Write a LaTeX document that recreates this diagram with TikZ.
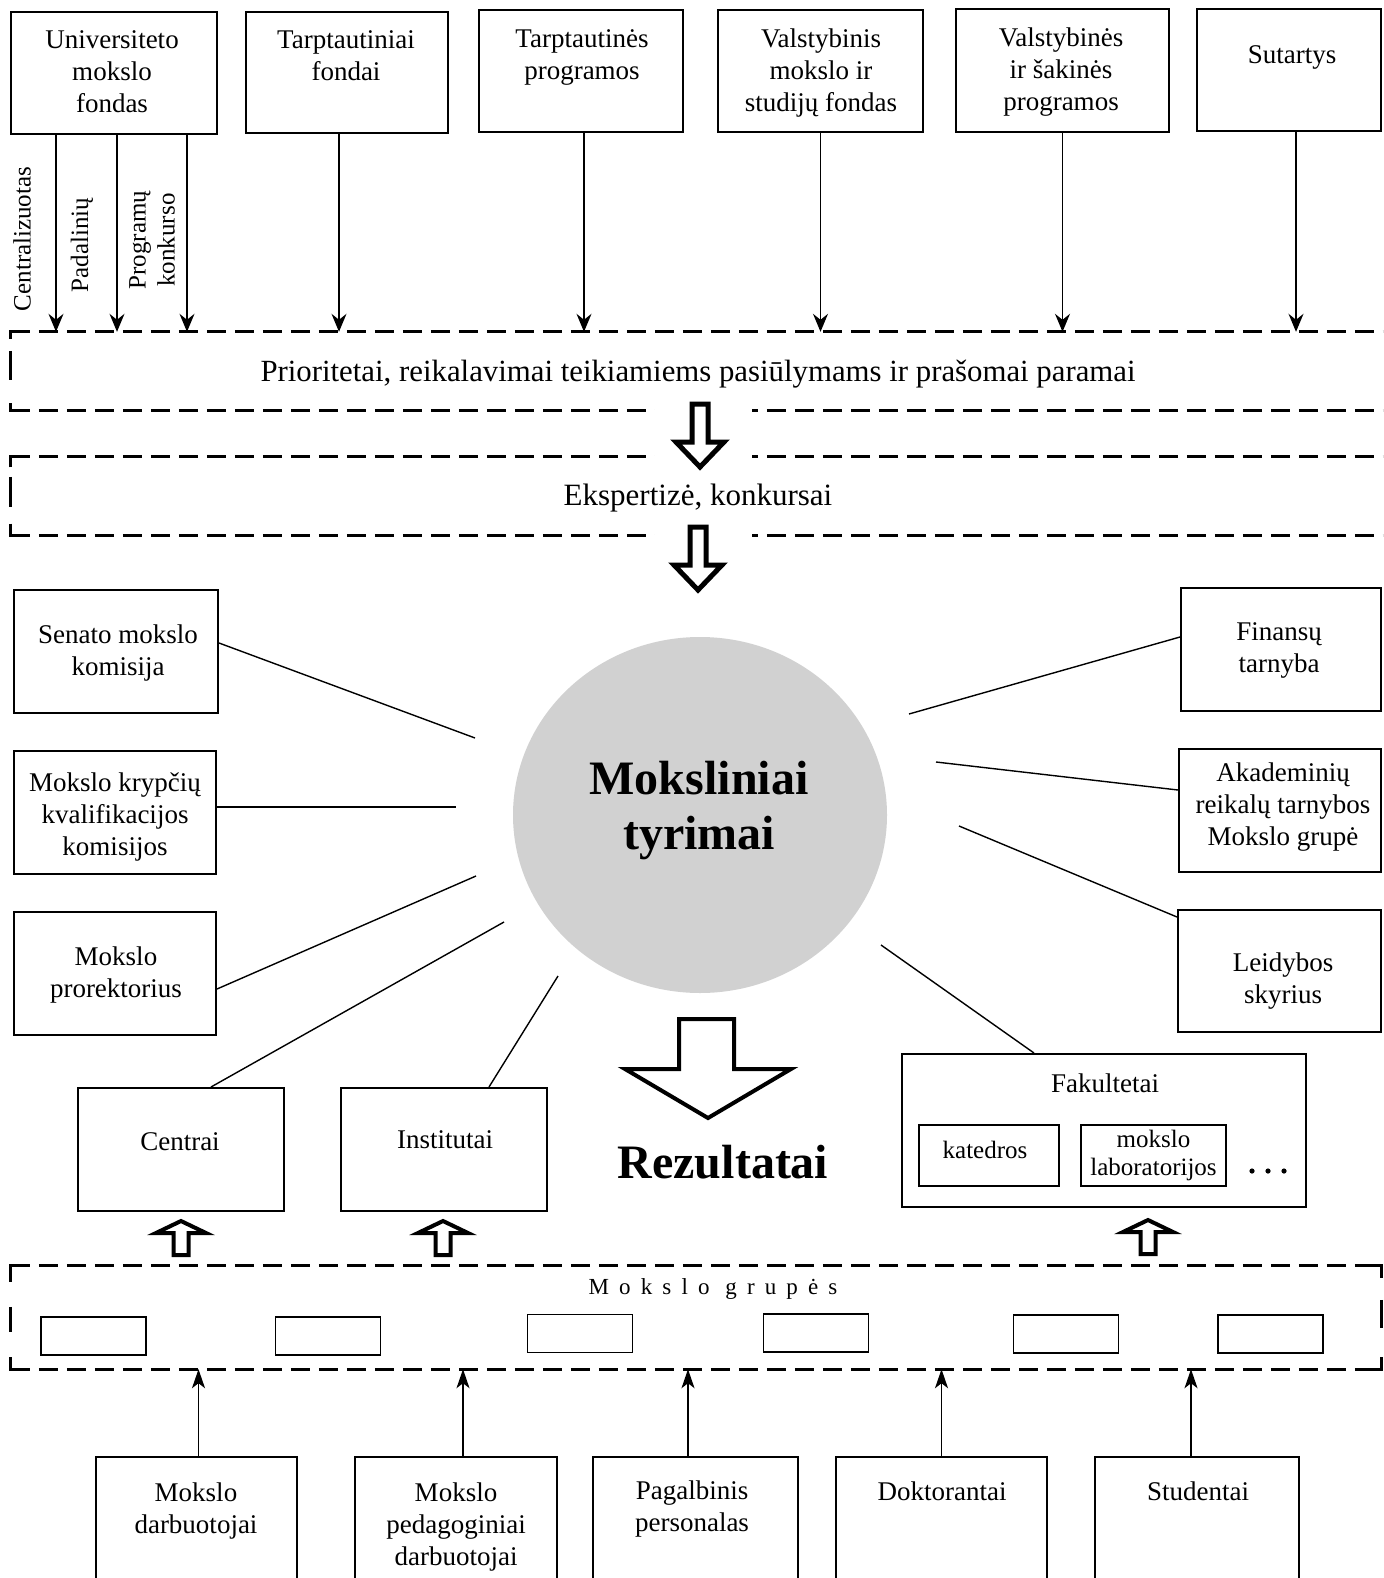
\documentclass[tikz,border=0pt]{standalone}
\usepackage{fontspec}
\setmainfont{Liberation Serif}
\usetikzlibrary{arrows.meta,shapes.geometric,calc}
\begin{document}
\begin{tikzpicture}[x=1pt,y=-1pt,
  box/.style={draw, line width=2pt, inner sep=0pt},
  txt/.style={align=center, inner sep=0pt, font=\fontsize{27}{32}\selectfont},
  rtxt/.style={align=center, inner sep=0pt, rotate=90, font=\fontsize{25}{29}\selectfont},
  arr/.style={line width=1.3pt, -{Stealth[length=18pt,width=15pt,inset=6pt]}},
  uarr/.style={line width=1.4pt, -{Stealth[length=19pt,width=13pt,inset=5pt]}},
  link/.style={line width=1.4pt},
  dashln/.style={line width=3pt, dash pattern=on 19pt off 9pt},
  frm/.style={line width=3pt, line join=miter},
  hollow/.style={draw, fill=white, line width=5pt, line join=miter, miter limit=10},
  smallbox/.style={draw, line width=1.5pt, inner sep=0pt},
  upar/.pic={\draw[line width=4pt, fill=white, line join=miter, miter limit=10]
     (-7.5,0) -- (-7.5,-22) -- (-25,-22) -- (0,-34) -- (25,-22) -- (7.5,-22) -- (7.5,0) -- cycle;}
]
\path[use as bounding box] (0,0) rectangle (1383,1578);
\clip (0,0) rectangle (1383,1578);
\fill[white] (0,0) rectangle (1383,1578);

% ---------- top boxes
\node[box, minimum width=206pt, minimum height=122pt] (u) at (114,73) {};
\node[txt] (ut) at (112,72) {Universiteto\\mokslo\\fondas};
\node[box, minimum width=202pt, minimum height=121pt] (tf) at (347,72.5) {};
\node[txt] (tft) at (346,56) {Tarptautiniai\\fondai};
\node[box, minimum width=204pt, minimum height=122pt] (tp) at (581,71) {};
\node[txt] (tpt) at (582,57) {Tarptautinės\\programos};
\node[box, minimum width=205pt, minimum height=122pt] (vf) at (820.5,71) {};
\node[txt] (vft) at (821,73) {Valstybinis\\mokslo ir\\studijų fondas};
\node[box, minimum width=213pt, minimum height=123pt] (vp) at (1062.5,70.5) {};
\node[txt] (vpt) at (1061,72) {Valstybinės\\ir šakinės\\programos};
\node[box, minimum width=184pt, minimum height=122pt] (s) at (1289,70) {};
\node[txt] (st) at (1292,57) {Sutartys};

% rotated labels
\node[rtxt] (l1) at (22,239) {Centralizuotas};
\node[rtxt] (l2) at (82,245) {Padalinių};
\node[rtxt] (l3) at (152,240) {Programų\\konkurso};

% ---------- dashed frames
\node[inner sep=0pt, minimum width=1374pt, minimum height=78pt] (p1) at (698,371) {};
\node[inner sep=0pt, font=\fontsize{30.8}{36}\selectfont] (p1t) at (698,374) {Prioritetai, reikalavimai teikiamiems pasiūlymams ir prašomai paramai};
\node[inner sep=0pt, minimum width=1374pt, minimum height=79pt] (p2) at (698,496) {};
\node[inner sep=0pt, font=\fontsize{31}{36}\selectfont] (p2t) at (698,498) {Ekspertizė, konkursai};

\draw[dashln] (p1.north west) -- (p1.north east);
\draw[dashln] (p1.south west) -- (p1.south east);
\draw[frm] ($(p1.north west)+(0,7)$) -- (p1.north west) -- ($(p1.north west)+(19,0)$);
\draw[frm] ($(p1.north west)+(0,19)$) -- ($(p1.north west)+(0,48)$);
\draw[frm] ($(p1.south west)+(0,-7)$) -- (p1.south west) -- ($(p1.south west)+(19,0)$);

\draw[dashln] (p2.north west) -- (p2.north east);
\draw[dashln] (p2.south west) -- (p2.south east);
\draw[frm] ($(p2.north west)+(0,11)$) -- (p2.north west) -- ($(p2.north west)+(19,0)$);
\draw[frm] ($(p2.north west)+(0,20.5)$) -- ($(p2.north west)+(0,50.5)$);
\draw[frm] ($(p2.south west)+(0,-12)$) -- (p2.south west) -- ($(p2.south west)+(19,0)$);

% top arrows
\draw[arr] ($(u.south)+(-58,0)$) -- ($(u.south |- p1.north)+(-58,0)$);
\draw[arr] ($(u.south)+(3,0)$) -- ($(u.south |- p1.north)+(3,0)$);
\draw[arr] ($(u.south)+(73,0)$) -- ($(u.south |- p1.north)+(73,0)$);
\draw[arr] ($(tf.south)+(-8,0)$) -- ($(tf.south |- p1.north)+(-8,0)$);
\draw[arr] ($(tp.south)+(3,0)$) -- ($(tp.south |- p1.north)+(3,0)$);
\draw[arr] (vf.south) -- (vf.south |- p1.north);
\draw[arr] (vp.south) -- (vp.south |- p1.north);
\draw[arr] ($(s.south)+(7,0)$) -- ($(s.south |- p1.north)+(7,0)$);

% hollow arrows between frames
\fill[white] (655,395) rectangle (752,478);
\fill[white] (655,520) rectangle (752,548);
\draw[hollow] (692,404) -- (708,404) -- (708,442) -- (724,442) -- (700,467) -- (676,442) -- (692,442) -- cycle;
\draw[hollow] (690,527) -- (706,527) -- (706,565) -- (722,565) -- (698,590) -- (674,565) -- (690,565) -- cycle;

% ---------- centre
\node[ellipse, fill=black!18, minimum width=374pt, minimum height=356pt, inner sep=0pt] (c) at (700,815) {};
\node[align=center, inner sep=0pt, font=\fontsize{48}{55}\selectfont\bfseries] (ct) at (699,811) {Moksliniai\\tyrimai};

% left boxes
\node[box, minimum width=204pt, minimum height=123pt] (sen) at (116,651.5) {};
\node[txt] (sent) at (118,653) {Senato mokslo\\komisija};
\node[box, minimum width=202pt, minimum height=123pt] (kry) at (115,812.5) {};
\node[txt] (kryt) at (115,817) {Mokslo krypčių\\kvalifikacijos\\komisijos};
\node[box, minimum width=202pt, minimum height=123pt] (pro) at (115,973.5) {};
\node[txt] (prot) at (116,975) {Mokslo\\prorektorius};

% right boxes
\node[box, minimum width=200pt, minimum height=123pt] (fin) at (1281,649.5) {};
\node[txt] (fint) at (1279,650) {Finansų\\tarnyba};
\node[box, minimum width=202pt, minimum height=123pt] (aka) at (1280,810.5) {};
\node[txt] (akat) at (1283,807) {Akademinių\\reikalų tarnybos\\Mokslo grupė};
\node[box, minimum width=203pt, minimum height=122pt] (lei) at (1279.5,971) {};
\node[txt] (leit) at (1283,981) {Leidybos\\skyrius};

% lower boxes
\node[box, minimum width=206pt, minimum height=123pt] (cen) at (181,1149.5) {};
\node[txt] (cent) at (180,1142) {Centrai};
\node[box, minimum width=206pt, minimum height=123pt] (ins) at (444,1149.5) {};
\node[txt] (inst) at (445,1140) {Institutai};
\node[box, minimum width=404pt, minimum height=153pt] (fak) at (1104,1130.5) {};
\node[txt] (fakt) at (1105,1083) {Fakultetai};
\node[smallbox, minimum width=140pt, minimum height=61pt] (kat) at (989,1155.5) {};
\node[inner sep=0pt, font=\fontsize{25}{28}\selectfont] (katt) at (985,1150) {katedros};
\node[smallbox, minimum width=145pt, minimum height=61pt, align=center, font=\fontsize{25}{28}\selectfont] (lab) at (1153.5,1155.5) {mokslo\\laboratorijos};
\fill (1252,1171) circle (2.6pt) (1268,1171) circle (2.6pt) (1284,1171) circle (2.6pt);

% links to centre
\coordinate (e1) at (475,738);
\coordinate (e2) at (456,807);
\coordinate (e3) at (476,876);
\coordinate (e4) at (504,922);
\coordinate (e5) at (558,976);
\coordinate (e6) at (909,714);
\coordinate (e7) at (936,762);
\coordinate (e8) at (959,826);
\coordinate (e9) at (881,945);
\draw[link] ($(sen.east)+(0,-8.5)$) -- (e1);
\draw[link] ($(kry.east)+(0,-5.5)$) -- (e2);
\draw[link] ($(pro.east)+(0,15.5)$) -- (e3);
\draw[link] ($(cen.north)+(30,0)$) -- (e4);
\draw[link] ($(ins.north)+(45,0)$) -- (e5);
\draw[link] ($(fin.west)+(0,-12.5)$) -- (e6);
\draw[link] ($(aka.west)+(0,-20.5)$) -- (e7);
\draw[link] ($(lei.north west)+(0,8)$) -- (e8);
\draw[link] ($(fak.north)+(-70,0)$) -- (e9);

% results arrow
\draw[line width=4pt, fill=white, line join=miter, miter limit=10] (679,1019) -- (734,1019) -- (734,1069) -- (791,1069) -- (708,1118) -- (625,1069) -- (679,1069) -- cycle;
\node[font=\fontsize{48}{52}\selectfont\bfseries, inner sep=0pt] (rez) at (723,1162) {Rezultatai};

% small up arrows
\pic at (181,1255) {upar};
\pic at (443,1255) {upar};
\pic at (1148,1254) {upar};

% ---------- groups frame
\node[inner sep=0pt, minimum width=1370pt, minimum height=103pt] (p3) at (696,1317.5) {};
\draw[dashln] (p3.north west) -- (p3.north east);
\draw[dashln] (p3.south west) -- (p3.south east);
\draw[frm] ($(p3.north west)+(0,16)$) -- (p3.north west) -- ($(p3.north west)+(19,0)$);
\draw[frm] ($(p3.north west)+(0,41)$) -- ($(p3.north west)+(0,66)$);
\draw[frm] ($(p3.south west)+(0,-12)$) -- (p3.south west) -- ($(p3.south west)+(19,0)$);
\draw[frm] ($(p3.north east)+(0,12)$) -- (p3.north east) -- ($(p3.north east)+(-19,0)$);
\draw[frm] ($(p3.north east)+(0,34)$) -- ($(p3.north east)+(0,62)$);
\draw[frm] ($(p3.south east)+(0,-12)$) -- (p3.south east) -- ($(p3.south east)+(-19,0)$);
\node[inner sep=0pt, font=\fontsize{23}{27}\selectfont\addfontfeature{LetterSpace=44}] (gt) at (713,1289) {Mokslo grupės};
\node[smallbox, minimum width=105pt, minimum height=38pt] (g1) at (93.5,1336) {};
\node[smallbox, minimum width=105pt, minimum height=38pt] (g2) at (328,1336) {};
\node[smallbox, minimum width=105pt, minimum height=38pt] (g3) at (580,1333.5) {};
\node[smallbox, minimum width=105pt, minimum height=38pt] (g4) at (816,1333) {};
\node[smallbox, minimum width=105pt, minimum height=38pt] (g5) at (1066,1334) {};
\node[smallbox, minimum width=105pt, minimum height=38pt] (g6) at (1270.5,1334) {};

% ---------- bottom boxes
\node[box, minimum width=201pt, minimum height=143pt] (A) at (196.5,1528.5) {};
\node[txt] (At) at (196,1510.5) {Mokslo\\darbuotojai};
\node[box, minimum width=202pt, minimum height=143pt] (B) at (456,1528.5) {};
\node[txt] (Bt) at (456,1526.5) {Mokslo\\pedagoginiai\\darbuotojai};
\node[box, minimum width=205pt, minimum height=143pt] (C) at (695.5,1528.5) {};
\node[txt] (Ct) at (692,1509) {Pagalbinis\\personalas};
\node[box, minimum width=211pt, minimum height=143pt] (D) at (941.5,1528.5) {};
\node[txt] (Dt) at (942,1491) {Doktorantai};
\node[box, minimum width=204pt, minimum height=143pt] (E) at (1197,1528.5) {};
\node[txt] (Et) at (1198,1491) {Studentai};

\draw[uarr] ($(A.north)+(2,0)$) -- ($(A.north |- p3.south)+(2,0)$);
\draw[uarr] ($(B.north)+(7,0)$) -- ($(B.north |- p3.south)+(7,0)$);
\draw[uarr] ($(C.north)+(-7.5,0)$) -- ($(C.north |- p3.south)+(-7.5,0)$);
\draw[uarr] (D.north) -- (D.north |- p3.south);
\draw[uarr] ($(E.north)+(-6,0)$) -- ($(E.north |- p3.south)+(-6,0)$);
\end{tikzpicture}
\end{document}
